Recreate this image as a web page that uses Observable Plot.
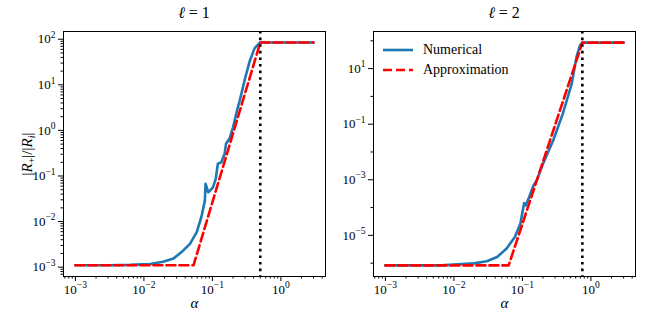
<!DOCTYPE html>
<html>
<head>
<meta charset="utf-8">
<script src="https://cdn.jsdelivr.net/npm/d3@7"></script>
<script src="https://cdn.jsdelivr.net/npm/@observablehq/plot@0.6"></script>
<style>
  body { margin: 0; background: #fff; }
  #wrap { position: relative; width: 650px; height: 325px; color: #000; }
  html body #wrap, html body #wrap *, html body #wrap svg text, html body #wrap svg tspan { font-family: 'Liberation Serif', 'Times New Roman', serif !important; }
  .panel { position: absolute; top: 0; }
  .title { position: absolute; top: 4px; font-size: 16px; text-align: center; width: 200px; }
  .legend { position: absolute; left: 383px; top: 40px; font-size: 14px; }
  .legend div { display: flex; align-items: center; height: 20px; }
  .legend svg { margin-right: 10px; }
</style>
</head>
<body>
<div id="wrap"></div>
<script>
// ---- data: ell = 1 ----
const alphaNum1 = [0.001, 0.003, 0.0063, 0.0123, 0.019, 0.027, 0.0355, 0.047, 0.059, 0.069, 0.0776, 0.0794, 0.087, 0.102, 0.112, 0.120, 0.135, 0.151, 0.158, 0.178, 0.20, 0.229, 0.251, 0.295, 0.347, 0.412, 0.479, 0.50, 3.0];
const ratioNum1 = [1.10e-3, 1.10e-3, 1.12e-3, 1.17e-3, 1.32e-3, 1.55e-3, 2.14e-3, 3.24e-3, 5.9e-3, 0.0126, 0.0288, 0.0676, 0.0437, 0.0562, 0.0871, 0.186, 0.20, 0.309, 0.513, 0.661, 1.17, 2.75, 4.57, 12.6, 31.6, 63.1, 80.4, 85.1, 85.1];
const alphaApp1 = [0.001, 0.053, 0.50, 3.0];
const ratioApp1 = [1.10e-3, 1.10e-3, 85.1, 85.1];
const alphaCrit1 = [0.5];

// ---- data: ell = 2 ----
const alphaNum2 = [0.001, 0.0065, 0.0195, 0.0302, 0.0427, 0.0589, 0.0776, 0.0933, 0.106, 0.112, 0.123, 0.145, 0.162, 0.20, 0.282, 0.389, 0.525, 0.617, 0.692, 0.75, 3.0];
const ratioNum2 = [8.3e-7, 8.3e-7, 9.8e-7, 1.17e-6, 1.66e-6, 3.39e-6, 8.7e-6, 2.63e-5, 1.45e-4, 1.2e-4, 2.1e-4, 6.3e-4, 9.5e-4, 3.8e-3, 0.0263, 0.24, 2.88, 26.3, 69.2, 86, 86];
const alphaApp2 = [0.001, 0.063, 0.75, 3.0];
const ratioApp2 = [8.3e-7, 8.3e-7, 86, 86];
const alphaCrit2 = [0.75];

// ---- ticks ----
const xMajor = [1e-3, 1e-2, 1e-1, 1];
const xMinorAll = [2,3,4,5,6,7,8,9].flatMap(m => [1e-4, 1e-3, 1e-2, 1e-1, 1].map(d => m * d));
const yMajor1 = [1e-3, 1e-2, 1e-1, 1, 10, 100];
const yMinor1All = [2,3,4,5,6,7,8,9].flatMap(m => [1e-4, 1e-3, 1e-2, 1e-1, 1, 10, 100].map(d => m * d));
const yMajor2 = [1e-5, 1e-3, 1e-1, 10];
const yMinor2All = [1e-6, 1e-4, 1e-2, 1, 100];

const titles = ["\u2113 = 1", "\u2113 = 2"];
const seriesNames = ["Numerical", "Approximation"];
const xLabel = "\u03b1";
const yLabel = "|R+|/|Ri|";

const BLUE = "#1f77b4", RED = "#ff0000";
const FONT = "'Liberation Serif', serif";

const xDomain = [10 ** -3.174, 10 ** 0.651];
const inside = (dom) => (v) => v >= dom[0] && v <= dom[1];

function pow10Label(v) {
  const k = Math.round(Math.log10(v));
  return "10^" + k;
}

function zip(xs, ys) { return xs.map((x, i) => ({alpha: x, ratio: ys[i]})); }

function panel({width, marginLeft, marginRight, yDomain, yMajor, yMinor, num, app, crit, showYLabel}) {
  return Plot.plot({
    width, height: 325,
    marginLeft, marginRight, marginTop: 31, marginBottom: 49,
    style: {fontFamily: FONT, fontSize: "13px", color: "black", background: "transparent"},
    x: {type: "log", domain: xDomain},
    y: {type: "log", domain: yDomain},
    marks: [
      Plot.axisX({ticks: xMinorAll.filter(inside(xDomain)), tickSize: 2.5, tickFormat: () => "", label: null}),
      Plot.axisX({ticks: xMajor, tickSize: 5, tickPadding: 3, tickFormat: pow10Label,
                  label: xLabel, labelAnchor: "center", labelOffset: 31, labelArrow: "none"}),
      Plot.axisY({ticks: yMinor.filter(inside(yDomain)), tickSize: 2.5, tickFormat: () => "", label: null}),
      Plot.axisY({ticks: yMajor, tickSize: 5, tickPadding: 3, tickFormat: pow10Label,
                  label: showYLabel ? yLabel : null, labelAnchor: "center", labelOffset: 42, labelArrow: "none"}),
      Plot.line(num, {x: "alpha", y: "ratio", stroke: BLUE, strokeWidth: 2.6}),
      Plot.line(app, {x: "alpha", y: "ratio", stroke: RED, strokeWidth: 2.6, strokeDasharray: "9,4"}),
      Plot.ruleX(crit, {stroke: "black", strokeWidth: 2.6, strokeDasharray: "2.6,4"}),
      Plot.frame({stroke: "black", strokeWidth: 1})
    ]
  });
}

const SVGNS = "http://www.w3.org/2000/svg";
function fixLabels(svg) {
  svg.querySelectorAll("text").forEach(t => {
    const s = t.textContent;
    const m = s.match(/^10\^(-?\d+)$/);
    if (m) {
      while (t.firstChild) t.removeChild(t.firstChild);
      t.appendChild(document.createTextNode("10"));
      const sup = document.createElementNS(SVGNS, "tspan");
      sup.setAttribute("font-size", "9.5px");
      sup.setAttribute("dy", "-5.5");
      sup.textContent = m[1].replace("-", "\u2212");
      t.appendChild(sup);
    } else if (s === xLabel) {
      t.setAttribute("font-style", "italic");
      t.setAttribute("font-size", "15px");
    } else if (s === yLabel) {
      while (t.firstChild) t.removeChild(t.firstChild);
      t.setAttribute("font-size", "15px");
      const parts = [
        ["|", {}], ["R", {"font-style": "italic"}], ["+", {"font-size": "10px", dy: "3"}],
        ["|/|", {dy: "-3"}], ["R", {"font-style": "italic"}], ["i", {"font-style": "italic", "font-size": "10px", dy: "3"}],
        ["|", {dy: "-3"}]
      ];
      for (const [txt, attrs] of parts) {
        const ts = document.createElementNS(SVGNS, "tspan");
        for (const k in attrs) ts.setAttribute(k, attrs[k]);
        ts.textContent = txt;
        t.appendChild(ts);
      }
    }
  });
}

const wrap = document.getElementById("wrap");

const p1 = panel({width: 330, marginLeft: 63, marginRight: 5,
  yDomain: [10 ** -3.205, 10 ** 2.17], yMajor: yMajor1, yMinor: yMinor1All,
  num: zip(alphaNum1, ratioNum1), app: zip(alphaApp1, ratioApp1), crit: alphaCrit1, showYLabel: true});
const p2 = panel({width: 320, marginLeft: 43, marginRight: 15,
  yDomain: [10 ** -6.48, 10 ** 2.335], yMajor: yMajor2, yMinor: yMinor2All,
  num: zip(alphaNum2, ratioNum2), app: zip(alphaApp2, ratioApp2), crit: alphaCrit2, showYLabel: false});

fixLabels(p1); fixLabels(p2);
p1.classList.add("panel"); p1.style.left = "0px";
p2.classList.add("panel"); p2.style.left = "330px";
wrap.appendChild(p1); wrap.appendChild(p2);

// titles
[[titles[0], 194], [titles[1], 504]].forEach(([txt, cx]) => {
  const d = document.createElement("div");
  d.className = "title";
  d.style.left = (cx - 100) + "px";
  d.innerHTML = '<i>\u2113</i> = ' + txt.slice(-1);
  wrap.appendChild(d);
});

// legend
const leg = document.createElement("div");
leg.className = "legend";
const styles = [{stroke: BLUE, dash: null}, {stroke: RED, dash: "9,4"}];
seriesNames.forEach((name, i) => {
  const row = document.createElement("div");
  const dash = styles[i].dash ? ` stroke-dasharray="${styles[i].dash}"` : "";
  row.innerHTML = `<svg width="30" height="6"><line x1="0" y1="3" x2="30" y2="3" stroke="${styles[i].stroke}" stroke-width="2.6"${dash}/></svg><span>${name}</span>`;
  leg.appendChild(row);
});
wrap.appendChild(leg);
</script>
</body>
</html>
